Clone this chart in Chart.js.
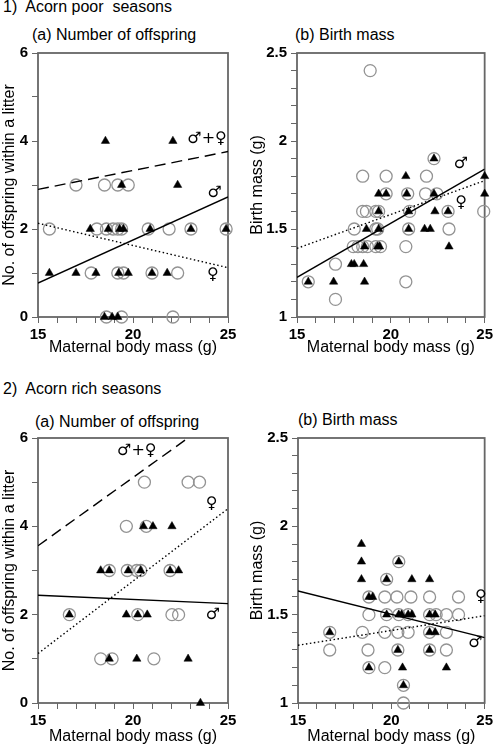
<!DOCTYPE html>
<html>
<head>
<meta charset="utf-8">
<script src="https://cdn.jsdelivr.net/npm/chart.js@4.4.0/dist/chart.umd.min.js"></script>
<style>
body { margin: 0; background: #fff; width: 496px; height: 748px; position: relative; overflow: hidden;
       font-family: "Liberation Sans", Arial, Helvetica, sans-serif; color: #000; }
.hd { position: absolute; font-size: 16px; white-space: pre; line-height: 18px; }
.box { position: absolute; }
</style>
</head>
<body>
<div class="hd" style="left:3px;top:-2px">1)  Acorn poor  seasons</div>
<div class="hd" style="left:32px;top:26px">(a) Number of offspring</div>
<div class="hd" style="left:295px;top:26px">(b) Birth mass</div>
<div class="hd" style="left:3px;top:380px">2)  Acorn rich seasons</div>
<div class="hd" style="left:35px;top:413px">(a) Number of offspring</div>
<div class="hd" style="left:298px;top:411px">(b) Birth mass</div>

<div class="box" style="left:0;top:40px"><canvas id="poorCount" width="248" height="320"></canvas></div>
<div class="box" style="left:248px;top:40px"><canvas id="poorMass" width="248" height="320"></canvas></div>
<div class="box" style="left:0;top:425px"><canvas id="richCount" width="248" height="323"></canvas></div>
<div class="box" style="left:248px;top:425px"><canvas id="richMass" width="248" height="323"></canvas></div>

<script>
// axes
const xTicks = [15, 16, 17, 18, 19, 20, 21, 22, 23, 24, 25];
const xLabels = [15, 20, 25];
const countTicks = [0, 1, 2, 3, 4, 5, 6];
const countLabels = [0, 2, 4, 6];
const massTicks = [1, 1.1, 1.2, 1.3, 1.4, 1.5, 1.6, 1.7, 1.8, 1.9, 2, 2.1, 2.2, 2.3, 2.4, 2.5];
const massLabels = [1, 1.5, 2, 2.5];
const lineX = [15, 25];

// 1a acorn poor, number of offspring
const poorCountCircX = [17.0, 18.5, 19.2, 19.75, 15.6, 18.1, 18.6, 18.95, 19.2, 19.4, 20.8, 21.9, 23.05, 24.9, 17.8, 19.2, 19.5, 21.0, 22.35, 18.6, 19.4, 22.1];
const poorCountCircY = [3, 3, 3, 3, 2, 2, 2, 2, 2, 2, 2, 2, 2, 2, 1, 1, 1, 1, 1, 0, 0, 0];
const poorCountTriX = [18.55, 22.1, 19.4, 22.35, 17.75, 18.7, 19.3, 19.5, 20.9, 23.05, 24.9, 15.6, 17.0, 18.05, 19.25, 19.75, 21.0, 21.8, 18.5, 18.9, 19.2];
const poorCountTriY = [4, 4, 3, 3, 2, 2, 2, 2, 2, 2, 2, 1, 1, 1, 1, 1, 1, 1, 0, 0, 0];
const poorCountBoth = [2.9, 3.76];
const poorCountMale = [0.77, 2.73];
const poorCountFemale = [2.13, 1.12];
const poorCountNotes = ['♂+♀', '♂', '♀'];
const poorCountNoteX = [23.9, 24.3, 24.2];
const poorCountNoteY = [4.04, 2.83, 0.95];

// 1b acorn poor, birth mass
const poorMassCircX = [18.9, 22.3, 18.5, 19.75, 21.9, 19.75, 20.9, 21.85, 22.45, 18.5, 18.7, 19.2, 19.35, 21.0, 23.05, 24.95, 18.05, 19.2, 19.3, 20.95, 23.1, 18.0, 18.25, 18.5, 18.75, 19.2, 19.45, 20.8, 17.05, 15.6, 20.8, 17.05];
const poorMassCircY = [2.4, 1.9, 1.8, 1.8, 1.8, 1.7, 1.7, 1.7, 1.7, 1.6, 1.6, 1.6, 1.6, 1.6, 1.6, 1.6, 1.5, 1.5, 1.5, 1.5, 1.5, 1.4, 1.4, 1.4, 1.4, 1.4, 1.4, 1.4, 1.3, 1.2, 1.2, 1.1];
const poorMassTriX = [22.3, 20.8, 25.0, 19.35, 19.75, 20.85, 22.3, 25.0, 19.35, 20.95, 22.35, 23.05, 18.7, 19.35, 20.95, 21.8, 22.1, 18.6, 19.3, 19.4, 23.1, 17.9, 18.05, 18.55, 15.6, 16.95, 18.6];
const poorMassTriY = [1.9, 1.8, 1.8, 1.7, 1.7, 1.7, 1.7, 1.7, 1.6, 1.6, 1.6, 1.6, 1.5, 1.5, 1.5, 1.5, 1.5, 1.4, 1.4, 1.4, 1.4, 1.3, 1.3, 1.3, 1.2, 1.2, 1.2];
const poorMassMale = [1.225, 1.84];
const poorMassFemale = [1.39, 1.775];
const poorMassNotes = ['♂', '♀'];
const poorMassNoteX = [23.74, 23.75];
const poorMassNoteY = [1.87, 1.65];

// 2a acorn rich, number of offspring
const richCountCircX = [20.6, 22.9, 23.5, 19.65, 20.7, 18.75, 19.7, 20.2, 20.4, 21.95, 16.65, 20.25, 22.05, 22.4, 18.3, 18.9, 21.1];
const richCountCircY = [5, 5, 5, 4, 4, 3, 3, 3, 3, 3, 2, 2, 2, 2, 1, 1, 1];
const richCountTriX = [20.55, 21.05, 22.05, 18.3, 18.75, 19.75, 20.4, 21.95, 22.4, 16.65, 19.65, 20.25, 20.75, 18.75, 20.2, 22.9, 23.55];
const richCountTriY = [4, 4, 4, 3, 3, 3, 3, 3, 3, 2, 2, 2, 2, 1, 1, 1, 0];
const richCountBoth = [3.56, 6.65];
const richCountMale = [2.44, 2.25];
const richCountFemale = [1.12, 4.4];
const richCountNotes = ['♂+♀', '♀', '♂'];
const richCountNoteX = [20.2, 24.14, 24.2];
const richCountNoteY = [5.72, 4.5, 2.0];

// 2b acorn rich, birth mass
const richMassCircX = [20.4, 19.75, 18.8, 19.65, 20.3, 21.05, 22.05, 23.6, 18.8, 19.75, 20.4, 20.9, 22.05, 22.4, 22.95, 23.6, 16.7, 18.45, 19.65, 20.35, 20.9, 22.05, 22.95, 16.7, 18.75, 20.35, 22.05, 22.95, 18.8, 19.65, 20.65, 20.65];
const richMassCircY = [1.8, 1.7, 1.6, 1.6, 1.6, 1.6, 1.6, 1.6, 1.5, 1.5, 1.5, 1.5, 1.5, 1.5, 1.5, 1.5, 1.4, 1.4, 1.4, 1.4, 1.4, 1.4, 1.4, 1.3, 1.3, 1.3, 1.3, 1.3, 1.2, 1.2, 1.1, 1.0];
const richMassTriX = [18.4, 18.4, 20.4, 18.4, 19.75, 21.1, 22.05, 18.8, 19.0, 19.75, 20.4, 20.55, 20.9, 21.1, 22.05, 22.35, 16.7, 22.05, 22.35, 20.35, 22.05, 18.8, 20.6, 22.95, 20.65];
const richMassTriY = [1.9, 1.8, 1.8, 1.7, 1.7, 1.7, 1.7, 1.6, 1.6, 1.5, 1.5, 1.5, 1.5, 1.5, 1.5, 1.5, 1.4, 1.4, 1.4, 1.3, 1.3, 1.2, 1.2, 1.2, 1.1];
const richMassMale = [1.634, 1.37];
const richMassFemale = [1.327, 1.494];
const richMassNotes = ['♀', '♂'];
const richMassNoteX = [24.8, 24.5];
const richMassNoteY = [1.6, 1.34];

const FONT = '"Liberation Sans", Arial, Helvetica, sans-serif';
const DASHED = [11, 6];
const DOTTED = [1.5, 2.5];

function pts(xs, ys) {
    return xs.map((x, i) => ({ x: x, y: ys[i] }));
}

// box round the plot area
const framePlugin = {
    id: 'frame',
    beforeDatasetsDraw(chart) {
        const a = chart.chartArea, ctx = chart.ctx;
        ctx.save();
        ctx.strokeStyle = '#666';
        ctx.lineWidth = 1.8;
        ctx.strokeRect(a.left, a.top, a.right - a.left, a.bottom - a.top);
        ctx.restore();
    }
};

// sex symbols next to the fitted lines
const notesPlugin = {
    id: 'notes',
    afterDatasetsDraw(chart, args, opts) {
        const ctx = chart.ctx, sx = chart.scales.x, sy = chart.scales.y;
        ctx.save();
        ctx.fillStyle = '#000';
        ctx.font = '16px "DejaVu Sans", sans-serif';
        ctx.textAlign = 'center';
        ctx.textBaseline = 'middle';
        opts.text.forEach((t, i) => ctx.fillText(t, sx.getPixelForValue(opts.x[i]), sy.getPixelForValue(opts.y[i])));
        ctx.restore();
    }
};

function drawPanel(id, cfg) {
    const lines = cfg.lines.map(l => ({
        type: 'line',
        data: pts(lineX, l.y),
        borderColor: '#000',
        borderWidth: 1.4,
        borderDash: l.dash,
        pointRadius: 0,
        fill: false,
        order: 0
    }));
    new Chart(document.getElementById(id), {
        type: 'scatter',
        data: {
            datasets: [
                { data: pts(cfg.cx, cfg.cy), pointStyle: 'circle', pointRadius: 6, pointHoverRadius: 6,
                  borderColor: '#939393', backgroundColor: 'rgba(0,0,0,0)', borderWidth: 1.3, clip: false, order: 2 },
                { data: pts(cfg.tx, cfg.ty), pointStyle: 'triangle', pointRadius: 4.8, pointHoverRadius: 4.8,
                  borderColor: '#000', backgroundColor: '#000', borderWidth: 0.5, clip: false, order: 1 }
            ].concat(lines)
        },
        options: {
            responsive: false,
            animation: false,
            devicePixelRatio: 1,
            layout: { padding: { left: 0, top: cfg.pt, right: cfg.pr, bottom: 0 } },
            plugins: {
                legend: { display: false },
                tooltip: { enabled: false },
                notes: { text: cfg.notes, x: cfg.nx, y: cfg.ny }
            },
            scales: {
                x: {
                    type: 'linear', min: 15, max: 25,
                    afterBuildTicks: s => { s.ticks = xTicks.map(v => ({ value: v })); },
                    afterFit: s => { s.height = cfg.xh; },
                    ticks: { autoSkip: false, maxRotation: 0, padding: 3, color: '#000',
                             font: { family: FONT, size: 15, weight: 'bold' },
                             callback: v => xLabels.includes(v) ? String(v) : '' },
                    grid: { drawOnChartArea: false, tickLength: 6, color: '#666', lineWidth: 1 },
                    border: { display: false },
                    title: { display: true, text: 'Maternal body mass (g)', color: '#000',
                             font: { family: FONT, size: 16 }, padding: { top: 0, bottom: cfg.xtp } }
                },
                y: {
                    type: 'linear', min: cfg.ymin, max: cfg.ymax,
                    afterBuildTicks: s => { s.ticks = cfg.yTicks.map(v => ({ value: v })); },
                    afterFit: s => { s.width = cfg.yw; },
                    ticks: { autoSkip: false, padding: 4, color: '#000',
                             font: { family: FONT, size: 15, weight: 'bold' },
                             callback: v => cfg.yLabels.some(l => Math.abs(l - v) < 1e-6) ? String(v) : '' },
                    grid: { drawOnChartArea: false, tickLength: 6, color: '#666', lineWidth: 1 },
                    border: { display: false },
                    title: { display: true, text: cfg.ytitle, color: '#000',
                             font: { family: FONT, size: 16 }, padding: { top: 0, bottom: 0 } }
                }
            }
        },
        plugins: [framePlugin, notesPlugin]
    });
}

const countAxis = { ymin: 0, ymax: 6, yTicks: countTicks, yLabels: countLabels, ytitle: 'No. of offspring within a litter' };
const massAxis = { ymin: 1, ymax: 2.5, yTicks: massTicks, yLabels: massLabels, ytitle: 'Birth mass (g)' };

drawPanel('poorCount', Object.assign({}, countAxis, {
    cx: poorCountCircX, cy: poorCountCircY, tx: poorCountTriX, ty: poorCountTriY,
    lines: [{ y: poorCountBoth, dash: DASHED }, { y: poorCountMale, dash: [] }, { y: poorCountFemale, dash: DOTTED }],
    notes: poorCountNotes, nx: poorCountNoteX, ny: poorCountNoteY,
    pt: 11, pr: 20, xh: 43, yw: 38, xtp: 3
}));
drawPanel('poorMass', Object.assign({}, massAxis, {
    cx: poorMassCircX, cy: poorMassCircY, tx: poorMassTriX, ty: poorMassTriY,
    lines: [{ y: poorMassMale, dash: [] }, { y: poorMassFemale, dash: DOTTED }],
    notes: poorMassNotes, nx: poorMassNoteX, ny: poorMassNoteY,
    pt: 12, pr: 9, xh: 43, yw: 49, xtp: 3
}));
drawPanel('richCount', Object.assign({}, countAxis, {
    cx: richCountCircX, cy: richCountCircY, tx: richCountTriX, ty: richCountTriY,
    lines: [{ y: richCountBoth, dash: DASHED }, { y: richCountMale, dash: [] }, { y: richCountFemale, dash: DOTTED }],
    notes: richCountNotes, nx: richCountNoteX, ny: richCountNoteY,
    pt: 12, pr: 20, xh: 45, yw: 38, xtp: 2
}));
drawPanel('richMass', Object.assign({}, massAxis, {
    cx: richMassCircX, cy: richMassCircY, tx: richMassTriX, ty: richMassTriY,
    lines: [{ y: richMassMale, dash: [] }, { y: richMassFemale, dash: DOTTED }],
    notes: richMassNotes, nx: richMassNoteX, ny: richMassNoteY,
    pt: 11, pr: 9, xh: 45, yw: 50, xtp: 2
}));
</script>
</body>
</html>
